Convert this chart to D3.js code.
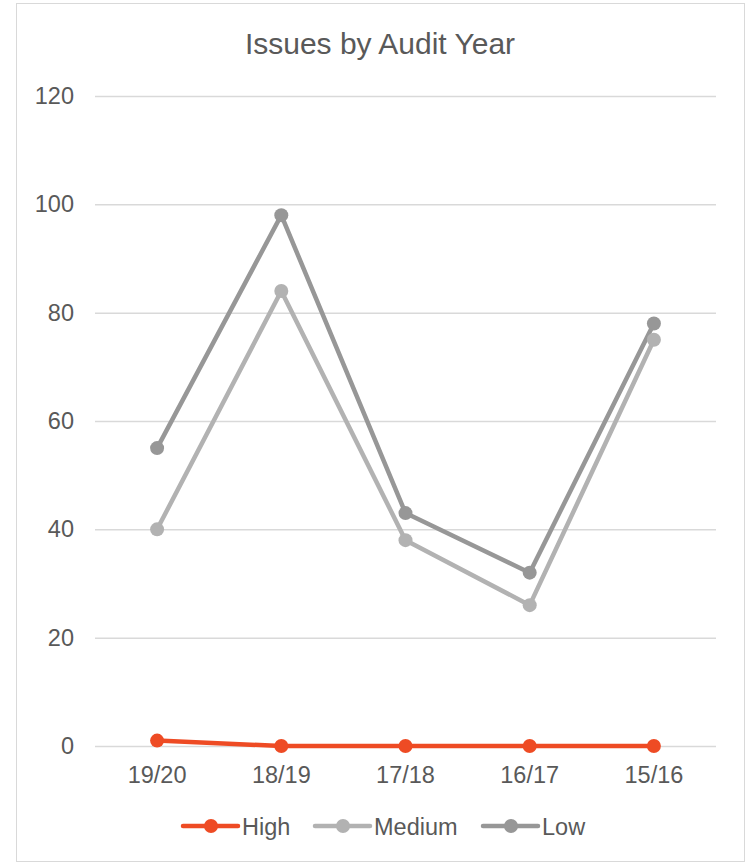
<!DOCTYPE html>
<html>
<head>
<meta charset="utf-8">
<script src="https://cdn.jsdelivr.net/npm/d3@7"></script>
<style>
  html, body { margin: 0; padding: 0; background: #fff; }
  svg { display: block; font-family: "Liberation Sans", Arial, Helvetica, sans-serif; }
</style>
</head>
<body>
<svg id="chart" width="749" height="864"></svg>
<script>
// Audit years, newest first
const years = ["19/20", "18/19", "17/18", "16/17", "15/16"];
// Issue counts per severity
const high = [1, 0, 0, 0, 0];
const medium = [40, 84, 38, 26, 75];
const low = [55, 98, 43, 32, 78];
const yTicks = [0, 20, 40, 60, 80, 100, 120];

const series = [
  { name: "High", values: high, color: "#EE4B24" },
  { name: "Medium", values: medium, color: "#B2B2B2" },
  { name: "Low", values: low, color: "#979797" }
];

const svg = d3.select("#chart");
const textColor = "#595959";
const fontFamily = "Liberation Sans, Arial, sans-serif";

// chart frame
svg.append("rect")
  .attr("x", 16.5).attr("y", 3.5)
  .attr("width", 728).attr("height", 858)
  .attr("fill", "#fff")
  .attr("stroke", "#D9D9D9").attr("stroke-width", 1);

const plot = { left: 95, right: 716, top: 96, bottom: 746 };

const x = d3.scaleBand().domain(years).range([plot.left, plot.right]);
const y = d3.scaleLinear().domain([0, 120]).range([plot.bottom, plot.top]);
const cx = d => x(d) + x.bandwidth() / 2;

// title
svg.append("text")
  .attr("x", 380).attr("y", 54)
  .attr("text-anchor", "middle")
  .attr("font-size", 30)
  .attr("fill", textColor)
  .text("Issues by Audit Year");

// horizontal gridlines and y labels
const yAxis = d3.axisLeft(y).tickValues(yTicks)
  .tickSize(-(plot.right - plot.left)).tickPadding(21);
const gy = svg.append("g")
  .attr("transform", `translate(${plot.left},0)`)
  .call(yAxis);
gy.select(".domain").remove();
gy.selectAll(".tick line").attr("stroke", "#D9D9D9").attr("stroke-width", 1.5);
gy.selectAll(".tick text")
  .attr("font-size", 23.5).attr("fill", textColor)
  .attr("font-family", fontFamily);

// category labels
const xAxis = d3.axisBottom(x).tickSize(0).tickPadding(20);
const gx = svg.append("g")
  .attr("transform", `translate(0,${plot.bottom})`)
  .call(xAxis);
gx.select(".domain").remove();
gx.selectAll(".tick text")
  .attr("font-size", 23.5).attr("fill", textColor)
  .attr("font-family", fontFamily);

// lines and markers, drawn bottom-up so High sits on top
const line = d3.line()
  .x((v, i) => cx(years[i]))
  .y(v => y(v));

[...series].reverse().forEach(s => {
  const g = svg.append("g");
  g.append("path")
    .datum(s.values)
    .attr("d", line)
    .attr("fill", "none")
    .attr("stroke", s.color)
    .attr("stroke-width", 4.5)
    .attr("stroke-linejoin", "round");
  g.selectAll("circle")
    .data(s.values)
    .join("circle")
    .attr("cx", (v, i) => cx(years[i]))
    .attr("cy", v => y(v))
    .attr("r", 7)
    .attr("fill", s.color);
});

// legend
const legendItems = [
  { s: series[0], x0: 183 },
  { s: series[1], x0: 315 },
  { s: series[2], x0: 483 }
];
const ly = 826;
legendItems.forEach(({ s, x0 }) => {
  const g = svg.append("g");
  g.append("line")
    .attr("x1", x0).attr("x2", x0 + 55)
    .attr("y1", ly).attr("y2", ly)
    .attr("stroke", s.color).attr("stroke-width", 4.5)
    .attr("stroke-linecap", "round");
  g.append("circle")
    .attr("cx", x0 + 28).attr("cy", ly).attr("r", 7)
    .attr("fill", s.color);
  g.append("text")
    .attr("x", x0 + 59).attr("y", ly + 8.5)
    .attr("font-size", 23.5).attr("fill", textColor)
    .text(s.name);
});
</script>
</body>
</html>
